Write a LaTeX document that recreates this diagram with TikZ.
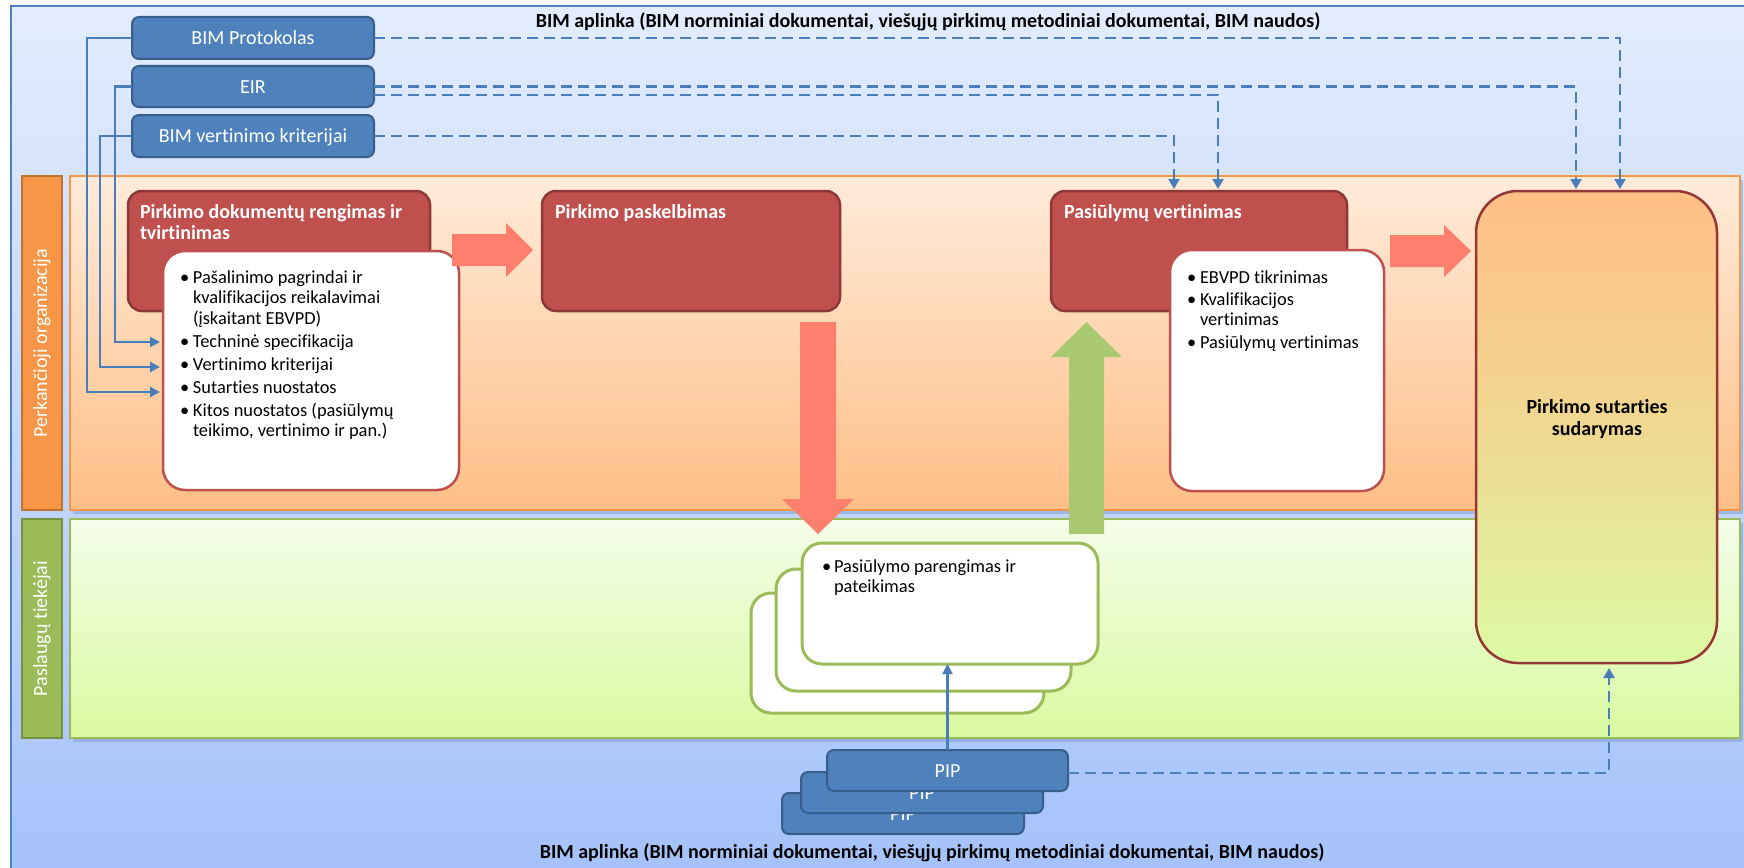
\documentclass[tikz,border=0pt]{standalone}
\usepackage{fontspec}
\setmainfont{Carlito}[Ligatures=NoCommon]
\usetikzlibrary{arrows.meta,calc}
\definecolor{bimblue}{HTML}{4F81BD}
\definecolor{bimblueD}{HTML}{385D8A}
\definecolor{connc}{HTML}{4A7EBB}
\definecolor{redfill}{HTML}{C0504D}
\definecolor{redline}{HTML}{8C3836}
\definecolor{bigline}{HTML}{943634}
\definecolor{salmon}{HTML}{FF7F6E}
\definecolor{greenarrow}{HTML}{A9C971}
\definecolor{greenB}{HTML}{9BBB59}
\definecolor{greenBD}{HTML}{76923C}
\definecolor{orangeB}{HTML}{F79646}
\definecolor{orangeBD}{HTML}{C0722F}
\definecolor{bgtop}{HTML}{E2ECFD}
\definecolor{bgbot}{HTML}{A4C2FA}
\definecolor{ortop}{HTML}{FFEBDA}
\definecolor{orbot}{HTML}{FFBF86}
\definecolor{grtop}{HTML}{F4FDE9}
\definecolor{grbot}{HTML}{D9FAA0}
\definecolor{bigmid}{HTML}{F0D890}
\definecolor{bigbot}{HTML}{DCFAA3}
\definecolor{shadowc}{HTML}{7F9CC8}
\newcommand\bul[1][13pt]{\makebox[#1][l]{\textbullet}}
\newcommand\ind[1][13pt]{\hspace*{#1}}
\newcommand\fl[1][15pt]{\rule{0pt}{#1}}
\begin{document}
\begin{tikzpicture}[x=1pt,y=-1pt,
  every node/.style={inner sep=0pt, outer sep=0pt},
  bluebox/.style={draw=bimblueD, fill=bimblue, line width=2pt, rounded corners=7pt, text=white,
     font=\fontsize{20}{24}\selectfont, text height=13pt, text depth=0pt},
  redbox/.style={draw=redline, fill=redfill, line width=2.5pt, rounded corners=14pt},
  whitebox/.style={draw=redfill, fill=white, line width=2.5pt, rounded corners=22pt},
  greenbox/.style={draw=greenB, fill=white, line width=3pt, rounded corners=20pt},
  lanelabel/.style={line width=2pt, text=white, font=\fontsize{20}{24}\selectfont},
  titletext/.style={text=white, font=\bfseries\fontsize{20}{21}\selectfont, align=left, anchor=north west},
  listtext/.style={text=black, font=\fontsize{18.4}{20.5}\selectfont, align=left, anchor=north west},
  solconn/.style={draw=connc, line width=2.2pt, -{Triangle[length=10pt,width=10pt]}},
  dashconn/.style={draw=connc, line width=2.2pt, dash pattern=on 11pt off 6pt, -{Triangle[length=10pt,width=11pt]}},
  bigtitle/.style={font=\bfseries\fontsize{20}{22}\selectfont, align=center}
]
\useasboundingbox (0,0) rectangle (1744,867);
\fill[white] (0,0) rectangle (1744,867);
% outer BIM environment
\shade[top color=bgtop, bottom color=bgbot] (11,6) rectangle (1760,880);
\draw[bimblue, line width=1.5pt] (11,880) -- (11,6) -- (1760,6);
\node[bigtitle, anchor=base] (ttop) at (928,28) {BIM aplinka (BIM norminiai dokumentai, viešųjų pirkimų metodiniai dokumentai, BIM naudos)};
\node[bigtitle, anchor=base] (tbot) at (932,858) {BIM aplinka (BIM norminiai dokumentai, viešųjų pirkimų metodiniai dokumentai, BIM naudos)};

% lanes
\fill[shadowc, opacity=0.5] (73,180) rectangle (1743,514);
\fill[shadowc, opacity=0.5] (73,523) rectangle (1743,742);
\node[lanelabel, draw=orangeBD, fill=orangeB, minimum width=40pt, minimum height=334pt] (olab) at (42,343) {};
\node[rotate=90, text=white, font=\fontsize{20}{24}\selectfont] (olabt) at (42,343) {Perkančioji organizacija};
\node[draw=orangeB, line width=2pt, top color=ortop, bottom color=orbot, minimum width=1670pt, minimum height=334pt] (olane) at (905,343) {};
\node[lanelabel, draw=greenBD, fill=greenB, minimum width=40pt, minimum height=219pt] (glab) at (42,628.5) {};
\node[rotate=90, text=white, font=\fontsize{20}{24}\selectfont] (glabt) at (42,628.5) {Paslaugų tiekėjai};
\node[draw=greenB, line width=2pt, top color=grtop, bottom color=grbot, minimum width=1670pt, minimum height=219pt] (glane) at (905,628.5) {};

% BIM documents
\node[bluebox, minimum width=242pt, minimum height=42pt] (prot) at (253,38) {BIM Protokolas};
\node[bluebox, minimum width=242pt, minimum height=41pt] (eir) at (253,86.5) {EIR};
\node[bluebox, minimum width=242pt, minimum height=42pt] (bvk) at (253,136) {BIM vertinimo kriterijai};

% process boxes
\node[redbox, minimum width=302pt, minimum height=120pt] (r1) at (279,251) {};
\node[titletext] (r1t) at (140,202) {\fl[16pt]Pirkimo dokumentų rengimas ir\\tvirtinimas};
\node[whitebox, minimum width=296pt, minimum height=239pt] (w1) at (311,370.5) {};
\node[listtext] (w1t) at (180,268) {\fl\bul Pašalinimo pagrindai ir\\\ind kvalifikacijos reikalavimai\\\ind (įskaitant EBVPD)\\[2.6pt]\bul Techninė specifikacija\\[2.6pt]\bul Vertinimo kriterijai\\[2.6pt]\bul Sutarties nuostatos\\[2.6pt]\bul Kitos nuostatos (pasiūlymų\\\ind teikimo, vertinimo ir pan.)};

\node[redbox, minimum width=298pt, minimum height=120pt] (r2) at (691,251) {};
\node[titletext] (r2t) at (555,202) {\fl[16pt]Pirkimo paskelbimas};

\node[redbox, minimum width=296pt, minimum height=120pt] (r3) at (1199,251) {};
\node[titletext] (r3t) at (1064,202) {\fl[16pt]Pasiūlymų vertinimas};
\node[whitebox, minimum width=214pt, minimum height=241pt] (w3) at (1277,370.5) {};
\node[listtext] (w3t) at (1187,268) {\fl\bul EBVPD tikrinimas\\[1.5pt]\bul Kvalifikacijos\\\ind vertinimas\\[2.6pt]\bul Pasiūlymų vertinimas};

\node[draw=bigline, line width=2.5pt, rounded corners=42pt, top color=orbot, bottom color=bigbot, middle color=bigmid, minimum width=241pt, minimum height=472pt] (big) at (1596.5,427) {};
\node[bigtitle, anchor=north] (bigt) at (1597,397) {\fl[16pt]Pirkimo sutarties\\sudarymas};

% block arrows
\fill[salmon] (452,234) -- (506,234) -- (506,223) -- (533,250) -- (506,277) -- (506,266) -- (452,266) -- cycle;
\fill[salmon] (1390,235) -- (1444,235) -- (1444,225) -- (1471,251) -- (1444,277) -- (1444,267) -- (1390,267) -- cycle;
\fill[salmon] (800,322) -- (836,322) -- (836,499) -- (854,499) -- (818,534) -- (782,499) -- (800,499) -- cycle;
\fill[greenarrow] (1069,534) -- (1104,534) -- (1104,357) -- (1122,357) -- (1086.5,322) -- (1051,357) -- (1069,357) -- cycle;

% offers (stacked)
\node[greenbox, minimum width=293pt, minimum height=120pt] (g1) at (897.5,653) {};
\node[greenbox, minimum width=295pt, minimum height=122pt] (g2) at (923.5,630) {};
\node[greenbox, minimum width=296pt, minimum height=121pt] (g3) at (950,603.5) {};
\node[listtext] (g3t) at (822,557) {\fl\bul[12pt]Pasiūlymo parengimas ir\\\ind[12pt]pateikimas};

% PIP stack
\node[bluebox, minimum width=242pt, minimum height=41pt] (p1) at (903,813.5) {PIP};
\node[bluebox, minimum width=242pt, minimum height=41pt] (p2) at (922,792.5) {PIP};
\node[bluebox, minimum width=241pt, minimum height=41pt] (p3) at (947.5,770.5) {PIP};

% connectors
\coordinate (tTech) at (160,342);
\coordinate (tVert) at (160,367);
\coordinate (tSut) at (160,392);
\draw[solconn] (eir.west) -- ++(-17,0) |- (tTech);
\draw[solconn] (bvk.west) -- ++(-32,0) |- (tVert);
\draw[solconn] (prot.west) -- ++(-45,0) |- (tSut);

\draw[dashconn] (prot.east) -| ($(big.north)+(23.5,-2)$);
\draw[dashconn] (eir.east) -| ($(big.north)+(-20.5,-2)$);
\draw[dashconn] ($(eir.east)+(0,8.5)$) -| ($(r3.north)+(19,-2)$);
\draw[dashconn] (bvk.east) -| ($(r3.north)+(-25,-2)$);
\draw[dashconn] ($(p3.east)+(0,2.5)$) -| ($(big.south)+(12.5,5)$);
\draw[solconn] (p3.north) -- (p3.north |- g3.south);
\end{tikzpicture}
\end{document}
